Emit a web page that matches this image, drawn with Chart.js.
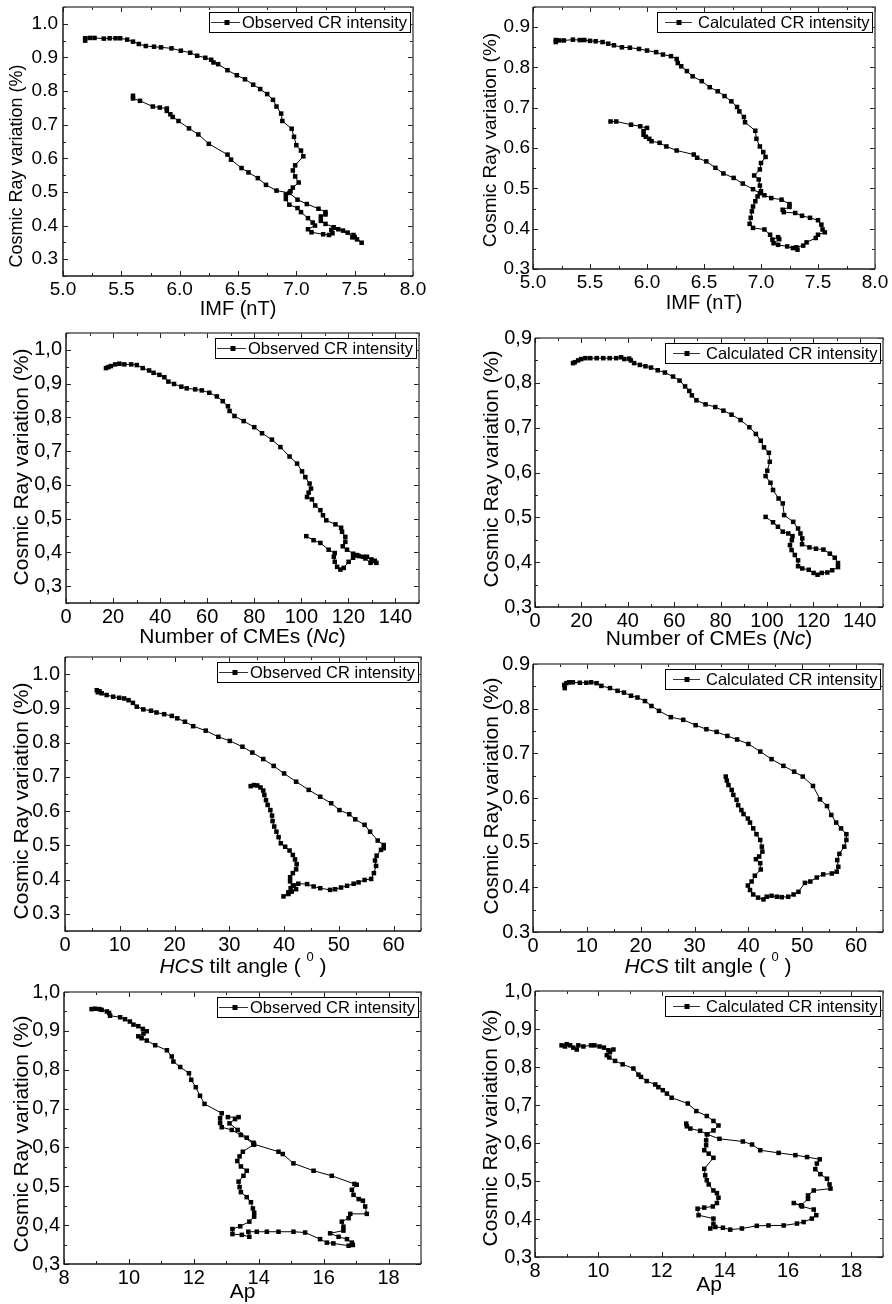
<!DOCTYPE html>
<html>
<head>
<meta charset="utf-8">
<title>CR intensity vs solar parameters</title>
<script src="https://cdn.jsdelivr.net/npm/chart.js@4.4.0/dist/chart.umd.min.js"></script>
<style>
  html, body { margin: 0; padding: 0; background: #fff; }
  #figura { position: relative; width: 892px; height: 1304px; }
  #figura canvas { position: absolute; left: 0; top: 0; }
</style>
</head>
<body>
<div id="figura"></div>
<script>
// ---- dados (x, variação CR %) ----
const imfObservado = [
  [5.19,0.950],[5.19,0.957],[5.23,0.958],[5.27,0.958],[5.35,0.956],[5.40,0.957],[5.45,0.957],[5.49,0.957],
  [5.55,0.953],[5.60,0.947],[5.65,0.940],[5.71,0.934],[5.78,0.932],[5.84,0.930],[5.93,0.927],[6.01,0.920],
  [6.09,0.914],[6.15,0.905],[6.22,0.899],[6.27,0.893],[6.29,0.885],[6.33,0.880],[6.41,0.862],[6.49,0.847],
  [6.56,0.835],[6.63,0.819],[6.69,0.806],[6.75,0.791],[6.80,0.774],[6.83,0.754],[6.87,0.733],[6.88,0.711],
  [6.96,0.688],[6.98,0.664],[7.00,0.639],[7.04,0.623],[7.06,0.606],[6.99,0.579],[6.97,0.564],[6.99,0.546],
  [7.02,0.528],[6.97,0.513],[6.95,0.502],[6.91,0.492],[6.91,0.479],[6.94,0.462],[7.01,0.452],[7.04,0.440],
  [7.10,0.422],[7.14,0.409],[7.16,0.400],[7.10,0.389],[7.13,0.380],[7.23,0.374],[7.28,0.372],[7.31,0.377],
  [7.30,0.387],[7.36,0.389],[7.40,0.385],[7.44,0.379],[7.49,0.372],[7.48,0.365],[7.52,0.359],[7.56,0.349],
  [7.50,0.366],[7.32,0.395],[7.25,0.405],[7.21,0.414],[7.21,0.427],[7.25,0.433],[7.25,0.440],[7.19,0.450],
  [7.09,0.464],[7.01,0.477],[6.94,0.497],[6.83,0.504],[6.74,0.521],[6.67,0.541],[6.59,0.558],[6.53,0.571],
  [6.44,0.596],[6.41,0.611],[6.25,0.643],[6.16,0.671],[6.08,0.689],[5.99,0.711],[5.94,0.723],[5.92,0.731],
  [5.89,0.741],[5.89,0.748],[5.83,0.751],[5.77,0.754],[5.66,0.771],[5.60,0.778],[5.60,0.786]
];
const imfCalculado = [
  [5.20,0.863],[5.20,0.868],[5.23,0.867],[5.27,0.867],[5.35,0.869],[5.41,0.868],[5.45,0.868],[5.50,0.866],
  [5.55,0.865],[5.61,0.863],[5.66,0.859],[5.71,0.855],[5.78,0.850],[5.85,0.849],[5.93,0.846],[6.00,0.842],
  [6.08,0.838],[6.14,0.832],[6.21,0.828],[6.26,0.821],[6.27,0.811],[6.30,0.803],[6.35,0.791],[6.40,0.778],
  [6.48,0.766],[6.55,0.751],[6.62,0.741],[6.68,0.729],[6.74,0.716],[6.79,0.702],[6.81,0.691],[6.85,0.677],
  [6.86,0.664],[6.95,0.643],[6.96,0.623],[6.99,0.604],[7.02,0.590],[7.04,0.578],[7.00,0.563],[6.99,0.547],
  [6.94,0.532],[6.98,0.522],[6.99,0.507],[7.00,0.493],[6.97,0.480],[6.95,0.468],[6.93,0.455],[6.92,0.443],
  [6.91,0.427],[6.90,0.412],[6.93,0.402],[7.03,0.398],[7.08,0.385],[7.10,0.373],[7.15,0.379],[7.16,0.374],
  [7.11,0.364],[7.15,0.360],[7.23,0.356],[7.28,0.352],[7.32,0.348],[7.31,0.354],[7.37,0.358],[7.40,0.366],
  [7.48,0.377],[7.50,0.385],[7.56,0.391],[7.54,0.398],[7.53,0.410],[7.50,0.421],[7.43,0.427],[7.36,0.432],
  [7.30,0.439],[7.20,0.441],[7.19,0.447],[7.25,0.454],[7.25,0.461],[7.18,0.472],[7.09,0.476],[7.03,0.483],
  [6.99,0.488],[6.93,0.498],[6.84,0.512],[6.76,0.526],[6.67,0.537],[6.60,0.551],[6.52,0.567],[6.44,0.576],
  [6.41,0.584],[6.26,0.594],[6.17,0.604],[6.11,0.613],[6.04,0.617],[6.02,0.623],[5.99,0.628],[5.97,0.633],
  [5.97,0.642],[6.00,0.650],[5.94,0.654],[5.86,0.658],[5.73,0.666],[5.68,0.666]
];
const cmeObservado = [
  [17.0,0.946],[18.0,0.949],[19.1,0.952],[20.9,0.957],[22.7,0.959],[24.8,0.957],[27.7,0.957],[30.1,0.955],
  [32.6,0.946],[35.3,0.939],[37.2,0.932],[39.7,0.926],[41.8,0.919],[43.5,0.906],[45.9,0.899],[49.0,0.891],
  [51.3,0.886],[54.9,0.883],[57.7,0.880],[60.9,0.873],[64.1,0.862],[66.6,0.848],[68.8,0.833],[69.5,0.819],
  [71.6,0.804],[75.5,0.789],[80.0,0.771],[83.3,0.753],[87.5,0.734],[91.1,0.712],[95.0,0.684],[98.2,0.663],
  [100.3,0.640],[101.7,0.623],[103.5,0.604],[104.1,0.589],[103.1,0.577],[102.4,0.564],[104.5,0.557],[105.9,0.539],
  [108.1,0.525],[109.2,0.510],[110.6,0.495],[114.5,0.483],[116.9,0.473],[117.3,0.461],[118.7,0.446],[118.7,0.431],
  [117.6,0.418],[119.4,0.408],[122.0,0.396],[123.7,0.392],[126.2,0.387],[127.9,0.387],[129.8,0.379],[131.2,0.375],
  [131.9,0.369],[129.4,0.369],[127.2,0.382],[124.4,0.389],[122.0,0.384],[120.1,0.372],[118.0,0.354],[116.6,0.349],
  [115.2,0.357],[114.2,0.372],[113.8,0.387],[114.2,0.398],[111.6,0.408],[108.1,0.428],[105.2,0.436],[102.1,0.448]
];
const cmeCalculado = [
  [16.4,0.844],[17.2,0.846],[18.6,0.850],[19.9,0.853],[21.7,0.855],[23.8,0.855],[26.6,0.855],[29.4,0.855],
  [32.2,0.855],[35.0,0.855],[37.1,0.857],[38.5,0.853],[40.6,0.854],[41.3,0.850],[42.7,0.844],[45.2,0.840],
  [47.6,0.837],[50.0,0.834],[52.9,0.828],[56.0,0.823],[59.5,0.814],[62.3,0.805],[64.7,0.792],[66.5,0.782],
  [67.6,0.772],[69.6,0.761],[73.5,0.752],[77.7,0.746],[81.2,0.738],[84.7,0.729],[88.6,0.717],[92.4,0.701],
  [95.2,0.686],[97.3,0.671],[98.7,0.656],[100.8,0.644],[101.2,0.624],[100.1,0.604],[99.4,0.592],[101.5,0.577],
  [102.6,0.561],[105.0,0.542],[106.8,0.531],[107.4,0.505],[111.3,0.490],[113.4,0.475],[114.4,0.464],[115.2,0.453],
  [115.1,0.440],[118.3,0.433],[121.1,0.430],[124.3,0.428],[127.1,0.419],[129.2,0.410],[130.6,0.398],[130.6,0.389],
  [128.1,0.382],[126.0,0.377],[123.6,0.376],[121.8,0.372],[120.1,0.376],[118.0,0.383],[115.2,0.386],[113.4,0.391],
  [113.4,0.404],[112.0,0.416],[110.6,0.427],[109.9,0.438],[110.7,0.449],[111.0,0.458],[109.2,0.464],[106.8,0.468],
  [104.7,0.479],[102.6,0.489],[99.4,0.501]
];
const hcsObservado = [
  [5.8,0.953],[6.3,0.950],[6.0,0.947],[6.7,0.944],[7.6,0.939],[8.8,0.934],[9.9,0.931],[10.8,0.929],
  [11.6,0.924],[12.4,0.916],[13.1,0.905],[14.3,0.897],[15.7,0.893],[16.7,0.888],[18.1,0.883],[19.5,0.878],
  [20.5,0.871],[21.9,0.861],[23.4,0.848],[25.7,0.835],[28.0,0.817],[30.1,0.805],[32.4,0.788],[34.2,0.771],
  [36.2,0.752],[38.1,0.732],[40.0,0.710],[42.2,0.686],[44.5,0.662],[46.6,0.642],[48.6,0.623],[50.1,0.603],
  [51.9,0.591],[53.0,0.576],[54.7,0.560],[55.7,0.540],[57.1,0.514],[58.2,0.501],[58.2,0.492],[57.7,0.487],
  [56.9,0.470],[56.6,0.456],[56.8,0.440],[56.4,0.419],[55.9,0.402],[54.7,0.399],[53.6,0.392],[52.7,0.388],
  [51.5,0.382],[50.4,0.377],[49.3,0.372],[48.4,0.370],[46.6,0.375],[45.4,0.380],[44.2,0.387],[42.6,0.388],
  [41.8,0.383],[41.2,0.375],[40.8,0.363],[39.9,0.351],[40.8,0.358],[41.4,0.365],[42.2,0.372],[41.6,0.382],
  [41.1,0.395],[41.1,0.407],[41.6,0.419],[42.2,0.430],[42.3,0.445],[42.0,0.459],[41.6,0.472],[41.0,0.485],
  [40.2,0.496],[39.4,0.506],[39.0,0.524],[38.6,0.540],[38.2,0.555],[37.9,0.571],[37.8,0.587],[37.5,0.603],
  [37.0,0.618],[36.7,0.632],[36.4,0.647],[36.2,0.660],[35.7,0.669],[35.1,0.675],[34.5,0.676],[33.9,0.673]
];
const hcsCalculado = [
  [5.9,0.846],[5.8,0.853],[6.2,0.857],[6.7,0.859],[7.4,0.859],[8.7,0.858],[9.9,0.858],[10.8,0.859],
  [11.8,0.857],[12.7,0.851],[14.3,0.846],[15.7,0.840],[16.9,0.836],[18.2,0.829],[19.4,0.825],[20.8,0.817],
  [22.0,0.806],[23.4,0.795],[25.6,0.781],[27.9,0.775],[30.2,0.763],[32.2,0.754],[34.1,0.748],[36.1,0.739],
  [37.9,0.731],[40.0,0.721],[42.2,0.704],[44.3,0.687],[46.5,0.672],[48.5,0.659],[50.1,0.648],[52.0,0.627],
  [53.3,0.597],[54.6,0.582],[55.4,0.562],[56.3,0.545],[57.2,0.532],[58.2,0.519],[58.2,0.506],[57.8,0.491],
  [56.9,0.475],[56.5,0.461],[56.7,0.446],[56.4,0.435],[55.5,0.431],[53.9,0.429],[52.7,0.422],[51.5,0.413],
  [50.5,0.410],[49.3,0.390],[48.4,0.384],[47.4,0.379],[46.2,0.378],[45.3,0.379],[44.3,0.381],[43.4,0.379],
  [42.8,0.373],[41.8,0.377],[40.9,0.384],[40.3,0.394],[39.9,0.404],[40.6,0.413],[41.2,0.426],[42.3,0.440],
  [42.2,0.454],[41.4,0.463],[42.0,0.469],[42.6,0.480],[42.5,0.491],[42.2,0.506],[41.5,0.519],[40.9,0.532],
  [40.3,0.545],[39.9,0.554],[39.1,0.564],[38.7,0.573],[38.1,0.584],[37.8,0.596],[37.2,0.607],[36.9,0.618],
  [36.3,0.629],[36.0,0.639],[35.8,0.648]
];
const apObservado = [
  [8.85,0.956],[8.96,0.957],[9.09,0.956],[9.16,0.954],[9.32,0.950],[9.39,0.946],[9.42,0.939],[9.73,0.935],
  [9.88,0.930],[10.03,0.924],[10.14,0.916],[10.29,0.912],[10.43,0.905],[10.55,0.899],[10.45,0.893],[10.29,0.886],
  [10.39,0.881],[10.55,0.875],[10.81,0.863],[11.17,0.850],[11.32,0.834],[11.37,0.821],[11.58,0.807],[11.85,0.791],
  [11.92,0.774],[12.06,0.755],[12.19,0.733],[12.33,0.712],[12.86,0.688],[12.81,0.675],[12.81,0.663],[12.86,0.652],
  [13.17,0.645],[13.45,0.632],[13.86,0.608],[14.61,0.589],[14.74,0.583],[15.07,0.559],[15.69,0.540],[16.25,0.527],
  [16.95,0.506],[17.02,0.504],[16.87,0.491],[16.92,0.478],[17.08,0.467],[17.21,0.463],[17.28,0.448],[17.33,0.429],
  [16.82,0.429],[16.77,0.418],[16.56,0.409],[16.61,0.396],[16.61,0.386],[16.20,0.379],[16.46,0.370],[16.72,0.364],
  [16.87,0.355],[16.90,0.349],[16.77,0.347],[16.30,0.353],[16.10,0.355],[15.89,0.364],[15.43,0.381],[15.07,0.383],
  [14.61,0.383],[14.25,0.383],[13.94,0.383],[13.68,0.383],[13.71,0.370],[13.48,0.375],[13.19,0.377],[13.19,0.390],
  [13.43,0.397],[13.71,0.409],[13.86,0.422],[13.86,0.432],[13.82,0.443],[13.76,0.459],[13.63,0.472],[13.45,0.485],
  [13.41,0.498],[13.38,0.512],[13.53,0.527],[13.63,0.540],[13.45,0.551],[13.34,0.565],[13.41,0.577],[13.51,0.589],
  [13.84,0.607],[13.84,0.612],[13.63,0.625],[13.35,0.645],[13.10,0.662],[13.27,0.673],[13.38,0.678],[13.05,0.678]
];
const apCalculado = [
  [8.84,0.857],[8.95,0.854],[9.00,0.860],[9.11,0.857],[9.21,0.851],[9.32,0.846],[9.37,0.857],[9.53,0.854],
  [9.77,0.857],[9.88,0.857],[10.04,0.854],[10.18,0.851],[10.32,0.844],[10.48,0.846],[10.37,0.839],[10.27,0.831],
  [10.35,0.825],[10.53,0.816],[10.77,0.807],[11.11,0.796],[11.27,0.780],[11.35,0.774],[11.53,0.763],[11.80,0.754],
  [11.90,0.747],[12.04,0.739],[12.17,0.730],[12.32,0.719],[12.83,0.704],[13.10,0.684],[13.43,0.671],[13.64,0.658],
  [13.80,0.646],[13.64,0.633],[13.43,0.623],[13.83,0.611],[14.57,0.604],[14.86,0.596],[15.12,0.581],[15.70,0.574],
  [16.23,0.568],[16.60,0.563],[17.00,0.557],[16.91,0.546],[16.86,0.531],[17.02,0.518],[17.23,0.506],[17.31,0.491],
  [17.34,0.480],[16.81,0.475],[16.63,0.462],[16.63,0.453],[16.41,0.436],[16.18,0.442],[16.44,0.433],[16.81,0.425],
  [16.89,0.410],[16.75,0.401],[16.49,0.392],[16.28,0.388],[15.86,0.383],[15.38,0.383],[15.01,0.382],[14.54,0.375],
  [14.17,0.372],[13.94,0.377],[13.70,0.379],[13.54,0.375],[13.64,0.387],[13.64,0.401],[13.17,0.410],[13.14,0.427],
  [13.35,0.430],[13.62,0.433],[13.75,0.442],[13.80,0.456],[13.75,0.468],[13.64,0.475],[13.49,0.491],[13.43,0.502],
  [13.38,0.515],[13.35,0.532],[13.64,0.561],[13.49,0.572],[13.35,0.581],[13.41,0.594],[13.41,0.607],[13.45,0.623],
  [13.22,0.632],[12.91,0.638],[12.80,0.644],[12.78,0.651]
];

// ---- ticks ----
const ticksImf = [5.0, 5.5, 6.0, 6.5, 7.0, 7.5, 8.0];
const rotulosImf = ['5.0', '5.5', '6.0', '6.5', '7.0', '7.5', '8.0'];
const ticksCme = [0, 20, 40, 60, 80, 100, 120, 140];
const rotulosCme = ['0', '20', '40', '60', '80', '100', '120', '140'];
const ticksHcs = [0, 10, 20, 30, 40, 50, 60];
const rotulosHcs = ['0', '10', '20', '30', '40', '50', '60'];
const ticksAp = [8, 10, 12, 14, 16, 18];
const rotulosAp = ['8', '10', '12', '14', '16', '18'];
const ticksCR10 = [0.3, 0.4, 0.5, 0.6, 0.7, 0.8, 0.9, 1.0];
const rotulosCRponto10 = ['0.3', '0.4', '0.5', '0.6', '0.7', '0.8', '0.9', '1.0'];
const rotulosCRvirgula10 = ['0,3', '0,4', '0,5', '0,6', '0,7', '0,8', '0,9', '1,0'];
const ticksCR09 = [0.3, 0.4, 0.5, 0.6, 0.7, 0.8, 0.9];
const rotulosCRponto09 = ['0.3', '0.4', '0.5', '0.6', '0.7', '0.8', '0.9'];
const rotulosCRvirgula09 = ['0,3', '0,4', '0,5', '0,6', '0,7', '0,8', '0,9'];

const FONTE = '"Liberation Sans", Arial, Helvetica, sans-serif';
const tituloY = [{ t: 'Cosmic Ray variation (%)' }];
const tituloImf = [{ t: 'IMF (nT)' }];
const tituloCme = [{ t: 'Number of CMEs (' }, { t: 'Nc', it: true }, { t: ')' }];
const tituloHcs = [{ t: 'HCS', it: true }, { t: ' tilt angle ( ' }, { t: '0', sup: true }, { t: ' )' }];
const tituloAp = [{ t: 'Ap' }];

// area = [esquerda, topo, direita, base] da região de plotagem
const paineis = [
  { serie: imfObservado, nome: 'Observed CR intensity', obs: true, area: [63, 7, 413, 276],
    x: [5, 8, 0.25], y: [0.25, 1.05], tx: ticksImf, rx: rotulosImf, ty: ticksCR10, ry: rotulosCRponto10,
    tituloX: tituloImf, tx0: 309, ty0: [17, 166], fTick: 19, fTitX: 20, fTitY: 18, padY: 5 },
  { serie: imfCalculado, nome: 'Calculated CR intensity', obs: false, area: [533, 7, 875, 269],
    x: [5, 8, 0.25], y: [0.3, 0.95], tx: ticksImf, rx: rotulosImf, ty: ticksCR09, ry: rotulosCRponto09,
    tituloX: tituloImf, tx0: 303, ty0: [491, 140], fTick: 19, fTitX: 20, fTitY: 19, padY: 3 },
  { serie: cmeObservado, nome: 'Observed CR intensity', obs: true, area: [66, 333, 419, 603],
    x: [0, 150, 10], y: [0.25, 1.05], tx: ticksCme, rx: rotulosCme, ty: ticksCR10, ry: rotulosCRvirgula10,
    tituloX: tituloCme, tx0: 637, ty0: [22, 467], fTick: 20, fTitX: 21, fTitY: 21, padY: 4 },
  { serie: cmeCalculado, nome: 'Calculated CR intensity', obs: false, area: [535, 338, 883, 607],
    x: [0, 150, 10], y: [0.3, 0.9], tx: ticksCme, rx: rotulosCme, ty: ticksCR09, ry: rotulosCRvirgula09,
    tituloX: tituloCme, tx0: 639, ty0: [492, 469], fTick: 20, fTitX: 21, fTitY: 21, padY: 3 },
  { serie: hcsObservado, nome: 'Observed CR intensity', obs: true, area: [65, 657, 421, 931],
    x: [0, 65, 5], y: [0.25, 1.05], tx: ticksHcs, rx: rotulosHcs, ty: ticksCR10, ry: rotulosCRponto10,
    tituloX: tituloHcs, tx0: 967, ty0: [22, 801], fTick: 20, fTitX: 21, fTitY: 21, padY: 5 },
  { serie: hcsCalculado, nome: 'Calculated CR intensity', obs: false, area: [533, 664, 883, 932],
    x: [0, 65, 5], y: [0.3, 0.9], tx: ticksHcs, rx: rotulosHcs, ty: ticksCR09, ry: rotulosCRponto09,
    tituloX: tituloHcs, tx0: 967, ty0: [492, 796], fTick: 20, fTitX: 21, fTitY: 21, padY: 3 },
  { serie: apObservado, nome: 'Observed CR intensity', obs: true, area: [64, 992, 421, 1264],
    x: [8, 19, 1], y: [0.3, 1.0], tx: ticksAp, rx: rotulosAp, ty: ticksCR10, ry: rotulosCRvirgula10,
    tituloX: tituloAp, tx0: 1292, ty0: [22, 1134], fTick: 20, fTitX: 21, fTitY: 21, padY: 4 },
  { serie: apCalculado, nome: 'Calculated CR intensity', obs: false, area: [535, 991, 883, 1257],
    x: [8, 19, 1], y: [0.3, 1.0], tx: ticksAp, rx: rotulosAp, ty: ticksCR10, ry: rotulosCRvirgula10,
    tituloX: tituloAp, tx0: 1285, ty0: [491, 1128], fTick: 20, fTitX: 21, fTitY: 21, padY: 3 }
];

// util: valores de tick menores entre min e max
function menores(min, max, passo) {
  const out = [];
  const n = Math.round((max - min) / passo);
  for (let i = 0; i <= n; i++) out.push(+(min + i * passo).toFixed(4));
  return out;
}

// texto com partes em itálico / sobrescrito, centrado em (cx, cy)
function desenhaTexto(ctx, partes, tam, cx, cy, girar) {
  ctx.save();
  ctx.translate(cx, cy);
  if (girar) ctx.rotate(-Math.PI / 2);
  ctx.textBaseline = 'middle';
  ctx.textAlign = 'left';
  ctx.fillStyle = '#000';
  const fontes = partes.map(p => `${p.it ? 'italic ' : ''}${p.sup ? Math.round(tam * 0.6) : tam}px ${FONTE}`);
  let total = 0;
  const larg = partes.map((p, i) => { ctx.font = fontes[i]; const w = ctx.measureText(p.t).width; total += w; return w; });
  let x = -total / 2;
  partes.forEach((p, i) => {
    ctx.font = fontes[i];
    ctx.fillText(p.t, x, p.sup ? -tam * 0.45 : 0);
    x += larg[i];
  });
  ctx.restore();
}

// moldura, ticks internos, legenda e títulos dos eixos
const moldura = {
  id: 'moldura',
  afterDraw(chart, args, o) {
    const ctx = chart.ctx;
    const { left, top, right, bottom } = chart.chartArea;
    const sx = chart.scales.x, sy = chart.scales.y;
    ctx.save();

    // ticks (todos para dentro)
    ctx.strokeStyle = '#222';
    ctx.lineWidth = 1;
    const tickX = (v, len) => {
      const px = Math.round(sx.getPixelForValue(v)) + 0.5;
      ctx.beginPath();
      ctx.moveTo(px, bottom); ctx.lineTo(px, bottom - len);
      ctx.moveTo(px, top); ctx.lineTo(px, top + len);
      ctx.stroke();
    };
    const tickY = (v, len) => {
      const py = Math.round(sy.getPixelForValue(v)) + 0.5;
      ctx.beginPath();
      ctx.moveTo(left, py); ctx.lineTo(left + len, py);
      ctx.moveTo(right, py); ctx.lineTo(right - len, py);
      ctx.stroke();
    };
    o.menoresX.forEach(v => tickX(v, 3));
    o.menoresY.forEach(v => tickY(v, 3));
    o.maioresX.forEach(v => tickX(v, 5));
    o.maioresY.forEach(v => tickY(v, 5));

    // caixa
    ctx.lineWidth = 1.5;
    ctx.strokeStyle = '#555';
    ctx.beginPath();
    ctx.moveTo(left, top); ctx.lineTo(right, top); ctx.lineTo(right, bottom);
    ctx.stroke();
    ctx.strokeStyle = '#1a1a1a';
    ctx.beginPath();
    ctx.moveTo(left, top); ctx.lineTo(left, bottom); ctx.lineTo(right, bottom);
    ctx.stroke();

    // legenda
    ctx.font = `16.5px ${FONTE}`;
    const ini = o.obs ? 33 : 41;
    const w = Math.round(ini + ctx.measureText(o.nome).width + 3);
    const h = 20;
    const x0 = Math.round(right - 3 - w), y0 = Math.round(top + 5);
    ctx.fillStyle = '#fff';
    ctx.fillRect(x0, y0, w, h);
    ctx.strokeStyle = '#000';
    ctx.lineWidth = 1;
    ctx.strokeRect(x0 + 0.5, y0 + 0.5, w, h);
    const ym = y0 + h / 2 + 0.5;
    ctx.strokeStyle = '#333';
    ctx.beginPath();
    ctx.moveTo(x0 + (o.obs ? 2 : 8), ym); ctx.lineTo(x0 + (o.obs ? 31 : 35), ym);
    ctx.stroke();
    ctx.fillStyle = '#000';
    const cq = x0 + (o.obs ? 18 : 22);
    ctx.fillRect(cq - 2.5, ym - 2.5, 5, 5);
    ctx.textBaseline = 'middle';
    ctx.textAlign = 'left';
    ctx.fillText(o.nome, x0 + ini, ym + 1);
    ctx.restore();

    // títulos
    desenhaTexto(ctx, o.tituloX, o.fTitX, (left + right) / 2, o.tx0, false);
    desenhaTexto(ctx, tituloY, o.fTitY, o.ty0[0], o.ty0[1], true);
  }
};

const figura = document.getElementById('figura');
const LARG = 892, ALT = 1304, LY = 60, AX = 40;

paineis.forEach(p => {
  const canvas = document.createElement('canvas');
  canvas.width = LARG;
  canvas.height = ALT;
  figura.appendChild(canvas);
  const [l, t, r, b] = p.area;
  const fonteTick = { family: FONTE, size: p.fTick };

  new Chart(canvas.getContext('2d'), {
    type: 'scatter',
    data: {
      datasets: [{
        data: p.serie.map(([x, y]) => ({ x, y })),
        showLine: true,
        borderColor: '#000',
        borderWidth: 1,
        pointStyle: 'rect',
        pointRadius: 3.2,
        pointBackgroundColor: '#000',
        pointBorderWidth: 0,
        tension: 0
      }]
    },
    options: {
      responsive: false,
      animation: false,
      events: [],
      layout: { padding: { left: l - LY, top: t, right: LARG - r, bottom: ALT - b - AX } },
      plugins: {
        legend: { display: false },
        tooltip: { enabled: false },
        moldura: {
          obs: p.obs, nome: p.nome, tituloX: p.tituloX, tx0: p.tx0, ty0: p.ty0,
          fTitX: p.fTitX, fTitY: p.fTitY,
          maioresX: p.tx, maioresY: p.ty,
          menoresX: menores(p.x[0], p.x[1], p.x[2]),
          menoresY: menores(p.y[0], p.y[1], 0.05)
        }
      },
      scales: {
        x: {
          type: 'linear', min: p.x[0], max: p.x[1],
          grid: { display: false, drawTicks: false },
          border: { display: false },
          ticks: { font: fonteTick, color: '#000', padding: 2, maxRotation: 0, autoSkip: false,
                   callback: (v, i) => p.rx[i] },
          afterBuildTicks: s => { s.ticks = p.tx.map(v => ({ value: v })); },
          afterFit: s => { s.height = AX; s.paddingLeft = 0; s.paddingRight = 0; }
        },
        y: {
          type: 'linear', min: p.y[0], max: p.y[1],
          grid: { display: false, drawTicks: false },
          border: { display: false },
          ticks: { font: fonteTick, color: '#000', padding: p.padY, autoSkip: false,
                   callback: (v, i) => p.ry[i] },
          afterBuildTicks: s => { s.ticks = p.ty.map(v => ({ value: v })); },
          afterFit: s => { s.width = LY; s.paddingTop = 0; s.paddingBottom = 0; }
        }
      }
    },
    plugins: [moldura]
  });
});
</script>
</body>
</html>
